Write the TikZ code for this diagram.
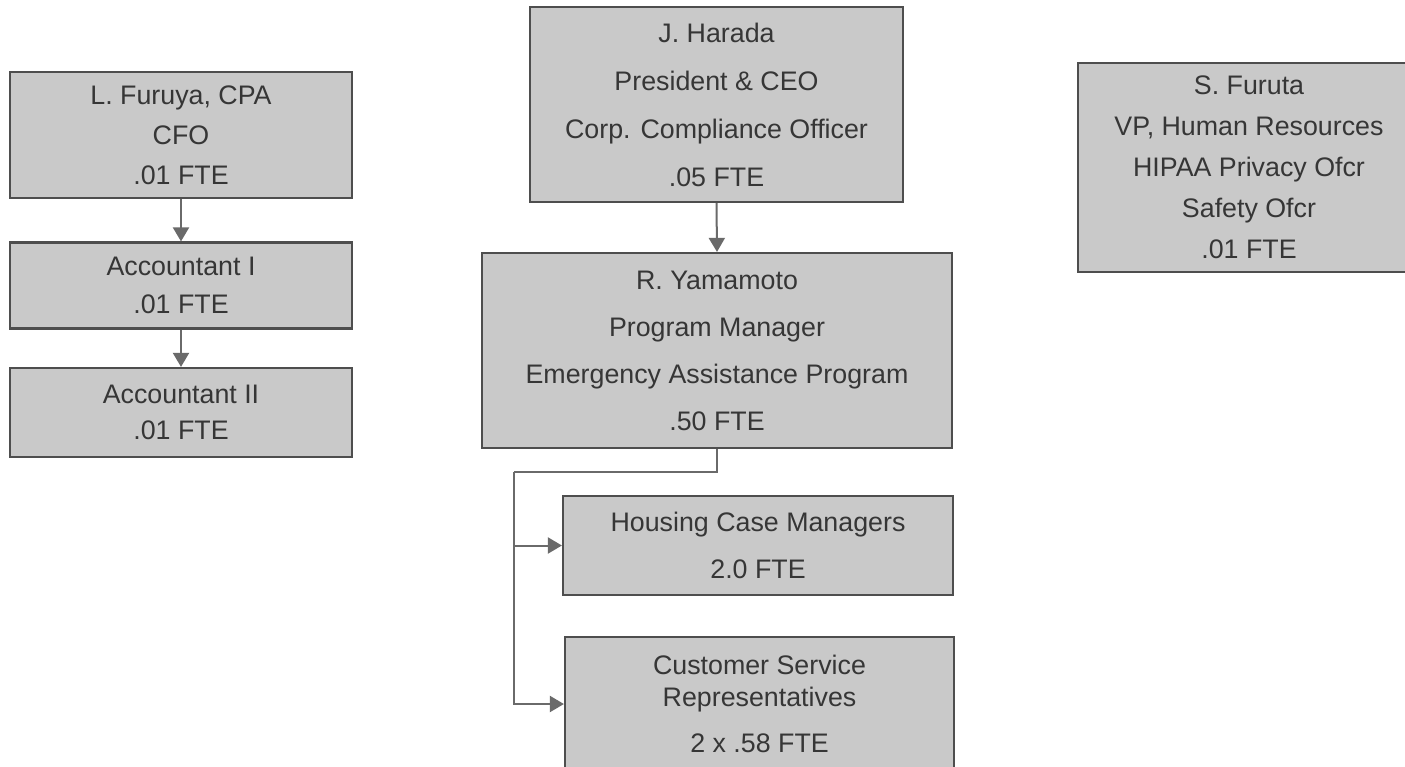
\documentclass[tikz,border=0pt]{standalone}
\usepackage{fontspec}
\setmainfont{Liberation Sans}
\usetikzlibrary{arrows.meta}
\definecolor{boxfill}{HTML}{C9C9C9}
\definecolor{boxline}{HTML}{4E4E4E}
\definecolor{txtcol}{HTML}{363636}
\definecolor{conn}{HTML}{6A6A6A}
\tikzset{
  orgbox/.style={draw=boxline, line width=2.2pt, fill=boxfill, inner sep=0pt,
    align=center, text=txtcol},
  ls/.style={font=\fontsize{26.8}{#1}\selectfont},
  conn/.style={draw=conn, line width=2pt, -{Triangle[length=14pt,width=16pt]}},
  plainconn/.style={draw=conn, line width=2pt},
}
\begin{document}
\begin{tikzpicture}[x=1pt,y=-1pt]
\useasboundingbox (0,0) rectangle (1405,766);
\clip (0,0) rectangle (1405,766);
\fill[white] (0,0) rectangle (1405,766);
% left column
\node[orgbox, ls=40, minimum width=342pt, minimum height=126pt] (cfo) at (181,135)
  {L. Furuya, CPA\\CFO\\.01 FTE};
\node[orgbox, ls=38, minimum width=342pt, minimum height=86pt] (acc1) at (181,285.5)
  {Accountant I\\.01 FTE};
\node[orgbox, ls=36, minimum width=342pt, minimum height=89pt] (acc2) at (181,412.5)
  {Accountant II\\.01 FTE};
% middle column
\node[orgbox, ls=48, minimum width=373pt, minimum height=195pt] (ceo) at (716.5,104.5)
  {J. Harada\\President \& CEO\\Corp. Compliance Officer\\.05 FTE};
\node[orgbox, ls=47, minimum width=470pt, minimum height=195pt] (pm) at (717,350.5)
  {R. Yamamoto\\Program Manager\\Emergency Assistance Program\\.50 FTE};
\node[orgbox, ls=47, minimum width=390pt, minimum height=99pt] (hcm) at (758,545.5)
  {Housing Case Managers\\2.0 FTE};
\node[orgbox, ls=46, minimum width=389pt, minimum height=134pt] (csr) at (759.5,704)
  {Customer Service\\[-14pt]Representatives\\2 x .58 FTE};
% right
\node[orgbox, ls=41, minimum width=342pt, minimum height=209pt] (hr) at (1249,167.5)
  {S. Furuta\\VP, Human Resources\\HIPAA Privacy Ofcr\\Safety Ofcr\\.01 FTE};
% connectors
\coordinate (bus) at (514,472);
\draw[conn] (cfo.south) -- (acc1.north);
\draw[conn] (acc1.south) -- (acc2.north);
\draw[conn] (ceo.south) -- (pm.north);
\draw[plainconn] (pm.south) |- (bus);
\draw[conn] (bus) |- (hcm.west);
\draw[conn] (bus) |- (csr.west);
\end{tikzpicture}
\end{document}
